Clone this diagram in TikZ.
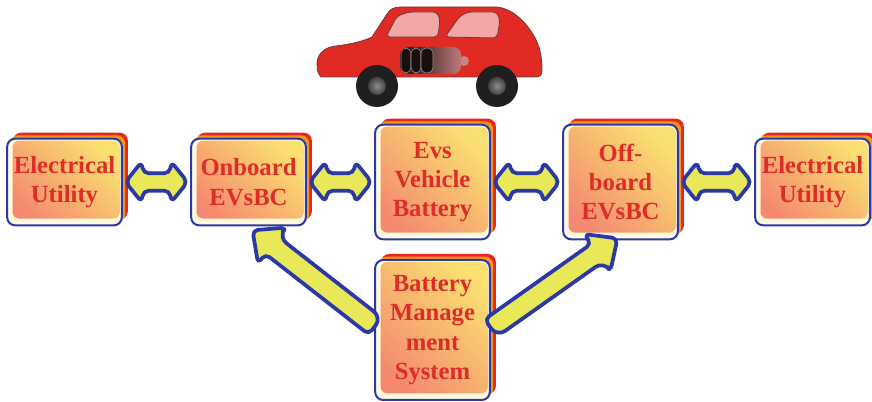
\documentclass[tikz,border=0pt]{standalone}
\usepackage{fontspec}
\setmainfont{Liberation Serif}
\usetikzlibrary{calc,shadows}

\definecolor{evblue}{RGB}{42,56,168}
\definecolor{evcream}{RGB}{255,250,222}
\definecolor{evsalmon}{RGB}{244,136,112}
\definecolor{evyellow}{RGB}{250,224,112}
\definecolor{evred}{RGB}{232,38,30}
\definecolor{evorange}{RGB}{246,150,24}
\definecolor{evtext}{RGB}{222,44,40}
\definecolor{arrowyellow}{RGB}{232,232,88}
\definecolor{carred}{RGB}{226,42,36}
\definecolor{carline}{RGB}{110,58,54}
\definecolor{carglass}{RGB}{242,166,166}

\tikzset{
  evbox/.style={draw=evblue, line width=1.5pt, fill=evcream, rounded corners=6pt,
    minimum width=86pt, minimum height=65pt, inner sep=0pt, align=center,
    text=evtext, font=\fontsize{18.5}{22}\selectfont\bfseries,
    general shadow={fill=evred, shadow xshift=4.5pt, shadow yshift=4.5pt},
    general shadow={fill=evorange, shadow xshift=2.5pt, shadow yshift=2.5pt},
    path picture={\shade[rounded corners=5pt, top color=evyellow, bottom color=evsalmon, shading angle=-45]
      ([xshift=4pt,yshift=5pt]path picture bounding box.south west) rectangle
      ([xshift=-1.5pt,yshift=-1.5pt]path picture bounding box.north east);}},
  tallbox/.style={evbox, minimum height=86pt},
  fatarrow/.style={draw=evblue, line width=2.8pt, fill=arrowyellow, line join=round, rounded corners=4pt},
  carbody/.style={draw=carline, line width=0.6pt, fill=carred},
  carglassstyle/.style={draw=carline, line width=0.6pt, fill=carglass, rounded corners=3pt},
}

% two-headed block arrow between two anchors
\newcommand{\twowayarrow}[2]{%
  \draw[fatarrow] ($(#1)!2pt!(#2)$)
    -- ($(#1)!14pt!(#2)!15pt!90:(#2)$)
    -- ($(#1)!15.5pt!(#2)!6.5pt!90:(#2)$)
    -- ($(#2)!15.5pt!(#1)!6.5pt!-90:(#1)$)
    -- ($(#2)!14pt!(#1)!15pt!-90:(#1)$)
    -- ($(#2)!2pt!(#1)$)
    -- ($(#2)!14pt!(#1)!15pt!90:(#1)$)
    -- ($(#2)!15.5pt!(#1)!6.5pt!90:(#1)$)
    -- ($(#1)!15.5pt!(#2)!6.5pt!-90:(#2)$)
    -- ($(#1)!14pt!(#2)!15pt!-90:(#2)$)
    -- cycle;}

% one-headed block arrow, tail first
\newcommand{\onewayarrow}[2]{%
  \draw[fatarrow] (#2)
    -- ($(#2)!18.5pt!(#1)!17pt!90:(#1)$)
    -- ($(#2)!18.5pt!(#1)!8pt!90:(#1)$)
    -- ($(#1)!8pt!-90:(#2)$)
    [rounded corners=7.5pt] -- ($(#1)!8pt!90:(#2)$)
    -- ($(#2)!18.5pt!(#1)!8pt!-90:(#1)$)
    [rounded corners=4pt] -- ($(#2)!18.5pt!(#1)!17pt!-90:(#1)$)
    -- cycle;}

\begin{document}
\begin{tikzpicture}[x=0.75pt,y=0.75pt,yscale=-1,xscale=1]
  \useasboundingbox (0,0) rectangle (872,402);

  %Car body
  \draw[carbody] (321,77) .. controls (317,74) and (316,64) .. (318,58)
    .. controls (321,50) and (328,47) .. (336,46)
    .. controls (352,44) and (364,41) .. (372,37)
    -- (387,14) .. controls (390,9) and (394,7) .. (401,7)
    -- (496,7) .. controls (512,8) and (526,22) .. (534,36)
    .. controls (540,46) and (542,58) .. (542,70)
    .. controls (542,75) and (540,77) .. (536,77) -- cycle;
  %Windows
  \draw[carglassstyle] (386,37) -- (397,16) -- (409,12) -- (437,12) -- (440,19) -- (438,37) -- cycle;
  \draw[carglassstyle] (445,37) -- (460,16) -- (468,12) -- (497,12) -- (500,20) -- (497,38) -- cycle;
  %Battery pack
  \fill[carglass!70!carline] (464,61) circle (5);
  \shade[rounded corners=6pt, left color=black!85!carline, right color=carglass!60!carline] (400,47) rectangle (461,74);
  \foreach \cx/\cw in {401/10,411/10,421/12}
    \draw[rounded corners=4pt, draw=black!40, fill=black!75!carline] (\cx,48) rectangle ++(\cw,25);
  %Wheels
  \foreach \wx in {377,497} {
    \fill[black!88] (\wx,86) circle (21);
    \shade[inner color=black!45, outer color=black!75] (\wx,86) circle (9);
  }

  % boxes
  \node[evbox] (util1) at (64.5,182) {Electrical\\Utility};
  \node[evbox] (onboard) at (248.5,182) {Onboard\\EVsBC};
  \node[tallbox] (evbat) at (432.5,182) {Evs\\Vehicle\\Battery};
  \node[tallbox] (offboard) at (620.5,182) {Off-\\board\\EVsBC};
  \node[evbox] (util2) at (812.5,182) {Electrical\\Utility};
  \node[evbox, minimum height=105pt] (bms) at (432.5,330) {Battery\\Manage\\ment\\System};

  % power flow arrows
  \twowayarrow{util1.east}{onboard.west}
  \twowayarrow{onboard.east}{evbat.west}
  \twowayarrow{evbat.east}{offboard.west}
  \twowayarrow{offboard.east}{util2.west}

  \coordinate (lefttail) at ($(bms.west)+(1,-4)$);
  \coordinate (lefttip) at ($(onboard.south)+(4,4)$);
  \coordinate (righttail) at ($(bms.east)+(0,-2)$);
  \coordinate (righttip) at ($(offboard.south)+(-3,-2)$);
  \onewayarrow{lefttail}{lefttip}
  \onewayarrow{righttail}{righttip}

\end{tikzpicture}
\end{document}
